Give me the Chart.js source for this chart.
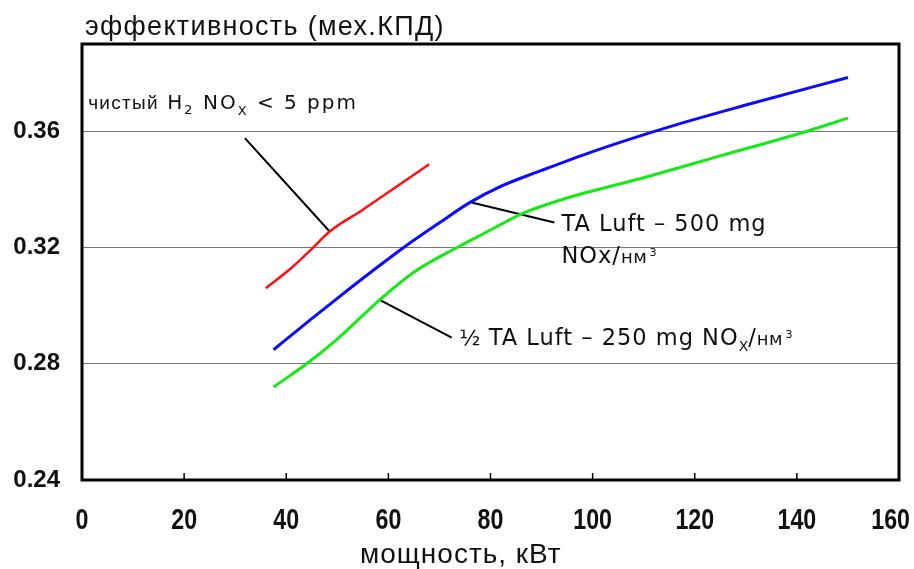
<!DOCTYPE html>
<html>
<head>
<meta charset="utf-8">
<script src="https://cdn.jsdelivr.net/npm/chart.js@4"></script>
<style>
  body { margin: 0; background: #fff; }
  #wrap { width: 914px; height: 569px; position: relative; }
</style>
</head>
<body>
<div id="wrap"><canvas id="myChart"></canvas></div>
<script>
// мощность (кВт) и эффективность для трёх кривых
const redPower = [36, 40.7, 45, 48.5, 55, 60, 68];
const redEff = [0.306, 0.3125, 0.3195, 0.3255, 0.333, 0.339, 0.3486];

const bluePower = [37.5, 45, 50, 57.7, 63, 70, 76, 82, 90, 100, 115, 130, 150];
const blueEff = [0.2848, 0.2955, 0.3025, 0.313, 0.32, 0.3285, 0.3355, 0.341, 0.3465, 0.353, 0.3615, 0.369, 0.3785];

const greenPower = [37.5, 44, 50, 58.3, 65, 74, 80, 86, 95, 110, 125, 142, 150];
const greenEff = [0.272, 0.28, 0.2885, 0.302, 0.3115, 0.3205, 0.326, 0.3315, 0.337, 0.344, 0.3515, 0.36, 0.3645];

// выноски к подписям
const redLeaderX = [31.9, 48.5];
const redLeaderY = [0.3576, 0.3255];
const blueLeaderX = [76.3, 92.5];
const blueLeaderY = [0.3355, 0.3286];
const greenLeaderX = [58.3, 72.4];
const greenLeaderY = [0.302, 0.289];

// оси
const xMin = 0, xMax = 160, xStep = 20;
const yMin = 0.24, yMax = 0.39, yStep = 0.04;
const yLastTick = 0.36;

function toPoints(xs, ys) {
    return xs.map((x, i) => ({ x: x, y: ys[i] }));
}

function curve(xs, ys, color, width) {
    return {
        data: toPoints(xs, ys),
        borderColor: color,
        borderWidth: width,
        pointRadius: 0,
        cubicInterpolationMode: 'monotone',
        fill: false,
    };
}

function leader(xs, ys) {
    return {
        data: toPoints(xs, ys),
        borderColor: '#000',
        borderWidth: 2,
        pointRadius: 0,
        tension: 0,
        fill: false,
    };
}

// подписи с индексами: [текст, размер, сдвиг по вертикали, шрифт, разрядка]
const DV = '"DejaVu Sans"';
const LS = '"Liberation Sans"';
const labels = [
    { x: 1.2, y: 0.3676, parts: [
        ['чистый', 19, 0, LS, 1.3], [' H', 20, 0, DV, 2], ['2', 13, 5, DV, 2], [' NO', 20, 0, DV, 2],
        ['X', 13, 6, DV, 2], [' < 5 ppm', 20, 0, DV, 2]] },
    { x: 93.9, y: 0.3255, parts: [['TA Luft – 500 mg', 22.5, 0, DV, 1]] },
    { x: 93.9, y: 0.3148, parts: [['NOx/', 22.5, 0, DV, 1], ['нм', 18, 0, DV, 0.5], ['\u20093', 11, -7, DV, 0]] },
    { x: 73.9, y: 0.2866, parts: [
        ['½', 22, 0, DV, 0], [' TA Luft – 250 mg NO', 22.5, 0, DV, 1], ['X', 14, 6, DV, 0],
        ['/', 22.5, 0, DV, 1], ['нм', 18, 0, DV, 0.5], ['\u20093', 11, -7, DV, 0]] },
];

// рамка, внутренние засечки и все надписи
const decor = {
    id: 'decor',
    beforeDatasetsDraw(chart) {
        const { ctx, chartArea: a, scales } = chart;
        ctx.save();
        ctx.strokeStyle = '#000';
        ctx.lineWidth = 1.5;
        scales.x.ticks.forEach(t => {
            if (t.value <= xMin || t.value >= xMax) return;
            const px = scales.x.getPixelForValue(t.value);
            ctx.beginPath();
            ctx.moveTo(px, a.bottom);
            ctx.lineTo(px, a.bottom - 7);
            ctx.stroke();
        });
        ctx.lineWidth = 3;
        ctx.strokeRect(a.left, a.top, a.right - a.left, a.bottom - a.top);
        ctx.restore();
    },
    afterDraw(chart) {
        const { ctx, chartArea: a, scales, width } = chart;
        ctx.save();
        ctx.fillStyle = '#111';
        ctx.textBaseline = 'alphabetic';

        ctx.letterSpacing = '1.3px';
        ctx.font = '27px ' + LS;
        ctx.fillText('эффективность (мех.КПД)', a.left + 3, 35);

        ctx.letterSpacing = '1px';
        ctx.font = '28px ' + LS;
        ctx.fillText('мощность, кВт', 360, 563);

        // подписи оси X узким начертанием
        ctx.letterSpacing = '0px';
        ctx.font = 'bold 29px ' + LS;
        ctx.textAlign = 'center';
        ctx.textBaseline = 'middle';
        scales.x.ticks.forEach(t => {
            const text = String(t.value);
            const w = ctx.measureText(text).width * 0.8;
            const px = Math.min(scales.x.getPixelForValue(t.value), width - w / 2 - 4);
            ctx.save();
            ctx.translate(px, 521);
            ctx.scale(0.8, 1);
            ctx.fillText(text, 0, 0);
            ctx.restore();
        });
        ctx.textAlign = 'left';
        ctx.textBaseline = 'alphabetic';

        labels.forEach(l => {
            let px = scales.x.getPixelForValue(l.x);
            const py = scales.y.getPixelForValue(l.y);
            l.parts.forEach(([text, size, dy, family, spacing]) => {
                ctx.letterSpacing = spacing + 'px';
                ctx.font = size + 'px ' + family;
                ctx.fillText(text, px, py + dy);
                px += ctx.measureText(text).width;
            });
        });
        ctx.restore();
    }
};

const config = {
    type: 'line',
    data: {
        datasets: [
            curve(redPower, redEff, '#ff1010', 2.5),
            curve(bluePower, blueEff, '#0a0aff', 3),
            curve(greenPower, greenEff, '#18e818', 3),
            leader(redLeaderX, redLeaderY),
            leader(blueLeaderX, blueLeaderY),
            leader(greenLeaderX, greenLeaderY),
        ],
    },
    options: {
        responsive: true,
        maintainAspectRatio: false,
        animation: false,
        layout: { padding: { top: 44, right: 15, left: 0, bottom: 0 } },
        plugins: {
            legend: { display: false },
            tooltip: { enabled: false },
        },
        scales: {
            x: {
                type: 'linear',
                min: xMin,
                max: xMax,
                grid: { display: false, drawTicks: false },
                border: { display: false },
                ticks: { stepSize: xStep, display: false },
                afterFit(scale) {
                    scale.height = 89;
                    scale.paddingLeft = 0;
                    scale.paddingRight = 0;
                },
            },
            y: {
                type: 'linear',
                min: yMin,
                max: yMax,
                grid: { color: '#777', lineWidth: 1, drawTicks: false },
                border: { display: false },
                ticks: {
                    stepSize: yStep,
                    color: '#111',
                    padding: 22,
                    font: { family: '"Liberation Sans"', size: 24, weight: 'bold' },
                    callback: v => v.toFixed(2),
                },
                afterBuildTicks(scale) {
                    scale.ticks = scale.ticks.filter(t => t.value <= yLastTick + 1e-9);
                },
                afterFit(scale) {
                    scale.width = 82;
                },
            },
        },
    },
    plugins: [decor],
};

const ctx = document.getElementById('myChart').getContext('2d');
const myChart = new Chart(ctx, config);
</script>
</body>
</html>
